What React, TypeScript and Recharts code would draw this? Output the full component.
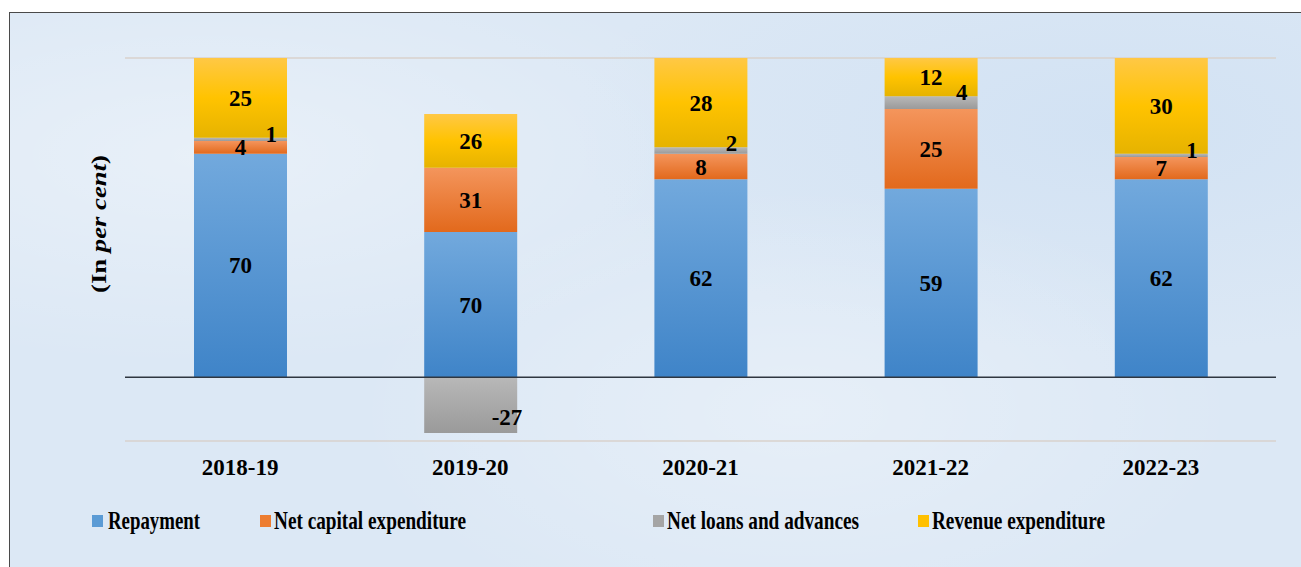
import React from 'react';
import { BarChart, Bar, XAxis, YAxis, CartesianGrid, ReferenceLine, LabelList, Legend } from 'recharts';

// ---- data ----
const categories = ['2018-19', '2019-20', '2020-21', '2021-22', '2022-23'];
const repayment = [70, 70, 62, 59, 62];
const netCapital = [4, 31, 8, 25, 7];
const netLoans = [1, -27, 2, 4, 1];
const revenue = [25, 26, 28, 12, 30];
const seriesKeys = ['repayment', 'netCapital', 'netLoans', 'revenue'];
const seriesNames = ['Repayment', 'Net capital expenditure', 'Net loans and advances', 'Revenue expenditure'];
const yTicks = [-20, 0, 20, 40, 60, 80, 100];

// 100% stacked (share of absolute total, as in the original spreadsheet chart)
const data = categories.map((c, i) => {
  const raw = [repayment[i], netCapital[i], netLoans[i], revenue[i]];
  const total = raw.reduce((s, v) => s + Math.abs(v), 0);
  const row: any = { category: c };
  seriesKeys.forEach((k, j) => {
    row[k] = raw[j];
    row[k + 'Pct'] = (raw[j] / total) * 100;
  });
  return row;
});

const FONT = '"Liberation Serif", "Times New Roman", serif';
const labelStyle: React.CSSProperties = { fontFamily: FONT, fontWeight: 700, fontSize: 23, fill: '#000' };

const centerLabel = (props: any) => {
  const { x, y, width, height, value } = props;
  const top = Math.min(y, y + height);
  const h = Math.abs(height);
  return (
    <text x={x + width / 2} y={top + h / 2 + 8} textAnchor="middle" style={labelStyle}>
      {value}
    </text>
  );
};

const loansLabel = (props: any) => {
  const { x, y, width, height, value } = props;
  const top = Math.min(y, y + height);
  const h = Math.abs(height);
  if (value < 0) {
    return (
      <text x={x + width * 0.89} y={top + h * 0.71 + 8} textAnchor="middle" style={labelStyle}>
        {value}
      </text>
    );
  }
  return (
    <text x={x + width * 0.83} y={top + 4} textAnchor="middle" style={labelStyle}>
      {value}
    </text>
  );
};

const XTick = (props: any) => {
  const { x, y, payload } = props;
  return (
    <text x={x} y={y + 34} textAnchor="middle" style={{ fontFamily: FONT, fontWeight: 700, fontSize: 23, fill: '#000' }}>
      {payload.value}
    </text>
  );
};

const YLabel = () => {
  const cx = 99;
  const cy = 224;
  return (
    <text
      x={cx}
      y={cy}
      transform={`rotate(-90 ${cx} ${cy})`}
      textAnchor="middle"
      dominantBaseline="central"
      textLength={138}
      lengthAdjust="spacingAndGlyphs"
      style={{ fontFamily: FONT, fontWeight: 700, fontSize: 21, fill: '#000' }}
    >
      (In <tspan fontStyle="italic">per cent</tspan>)
    </text>
  );
};

const legendColors = ['#5b9bd5', '#ed7d31', '#a5a5a5', '#ffc000'];

const LegendContent = () => {
  const sq = [92, 260, 653, 918];
  const tx = [108, 274, 667, 932];
  const tl = [92, 192, 192, 173];
  return (
    <svg width={1301} height={40} style={{ display: 'block' }}>
      {seriesNames.map((n, i) => (
        <g key={n}>
          <rect x={sq[i]} y={15} width={11} height={12} fill={legendColors[i]} />
          <text
            x={tx[i]}
            y={29}
            textLength={tl[i]}
            lengthAdjust="spacingAndGlyphs"
            style={{ fontFamily: FONT, fontWeight: 700, fontSize: 25, fill: '#000' }}
          >
            {n}
          </text>
        </g>
      ))}
    </svg>
  );
};

export default function App() {
  return (
    <div style={{ position: 'relative', width: 1301, height: 567, overflow: 'hidden' }}>
      <style>{'html,body{margin:0;padding:0;overflow:hidden;}'}</style>
      <div
        style={{
          position: 'absolute',
          left: 9,
          top: 12,
          width: 1310,
          height: 570,
          borderTop: '1.5px solid #4a4a4a',
          borderLeft: '1.5px solid #4a4a4a',
          background:
            'radial-gradient(ellipse at 15% 25%, rgba(255,255,255,0.35), transparent 35%),' +
            'radial-gradient(ellipse at 60% 70%, rgba(255,255,255,0.3), transparent 40%),' +
            'radial-gradient(ellipse at 85% 20%, rgba(200,220,242,0.5), transparent 35%),' +
            '#dce8f5',
        }}
      />
      <div style={{ position: 'absolute', left: 0, top: 0 }}>
        <BarChart
          width={1301}
          height={567}
          data={data}
          stackOffset="sign"
          margin={{ top: 58, right: 25, left: 0, bottom: 66 }}
          barSize={93}
        >
          <defs>
            <linearGradient id="gBlue" x1="0" y1="0" x2="0" y2="1">
              <stop offset="0%" stopColor="#72a9dd" />
              <stop offset="100%" stopColor="#3f84c8" />
            </linearGradient>
            <linearGradient id="gOrange" x1="0" y1="0" x2="0" y2="1">
              <stop offset="0%" stopColor="#f4955c" />
              <stop offset="100%" stopColor="#e2691c" />
            </linearGradient>
            <linearGradient id="gGray" x1="0" y1="0" x2="0" y2="1">
              <stop offset="0%" stopColor="#b8b8b8" />
              <stop offset="100%" stopColor="#9a9a9a" />
            </linearGradient>
            <linearGradient id="gYellow" x1="0" y1="0" x2="0" y2="1">
              <stop offset="0%" stopColor="#ffc845" />
              <stop offset="50%" stopColor="#ffc300" />
              <stop offset="100%" stopColor="#e6b300" />
            </linearGradient>
          </defs>
          <CartesianGrid vertical={false} stroke="#d8d2cc" strokeWidth={1.5} />
          <XAxis
            dataKey="category"
            axisLine={false}
            tickLine={false}
            tickSize={0}
            tickMargin={0}
            height={60}
            interval={0}
            tick={<XTick />}
          />
          <YAxis
            type="number"
            domain={[-20, 100]}
            ticks={yTicks}
            width={125}
            tick={false}
            axisLine={false}
            tickLine={false}
            allowDataOverflow
            label={<YLabel />}
          />
          <Legend
            layout="horizontal"
            verticalAlign="middle"
            align="center"
            content={<LegendContent />}
            wrapperStyle={{ position: 'absolute', top: 500, left: 0, width: 1301, height: 40 }}
          />
          <Bar dataKey="repaymentPct" name={seriesNames[0]} stackId="a" fill="url(#gBlue)" isAnimationActive={false}>
            <LabelList dataKey="repayment" content={centerLabel} />
          </Bar>
          <Bar dataKey="netCapitalPct" name={seriesNames[1]} stackId="a" fill="url(#gOrange)" isAnimationActive={false}>
            <LabelList dataKey="netCapital" content={centerLabel} />
          </Bar>
          <Bar dataKey="netLoansPct" name={seriesNames[2]} stackId="a" fill="url(#gGray)" isAnimationActive={false}>
            <LabelList dataKey="netLoans" content={loansLabel} />
          </Bar>
          <Bar dataKey="revenuePct" name={seriesNames[3]} stackId="a" fill="url(#gYellow)" isAnimationActive={false}>
            <LabelList dataKey="revenue" content={centerLabel} />
          </Bar>
          <ReferenceLine y={0} stroke="#2f3640" strokeWidth={1.5} />
        </BarChart>
      </div>
    </div>
  );
}
